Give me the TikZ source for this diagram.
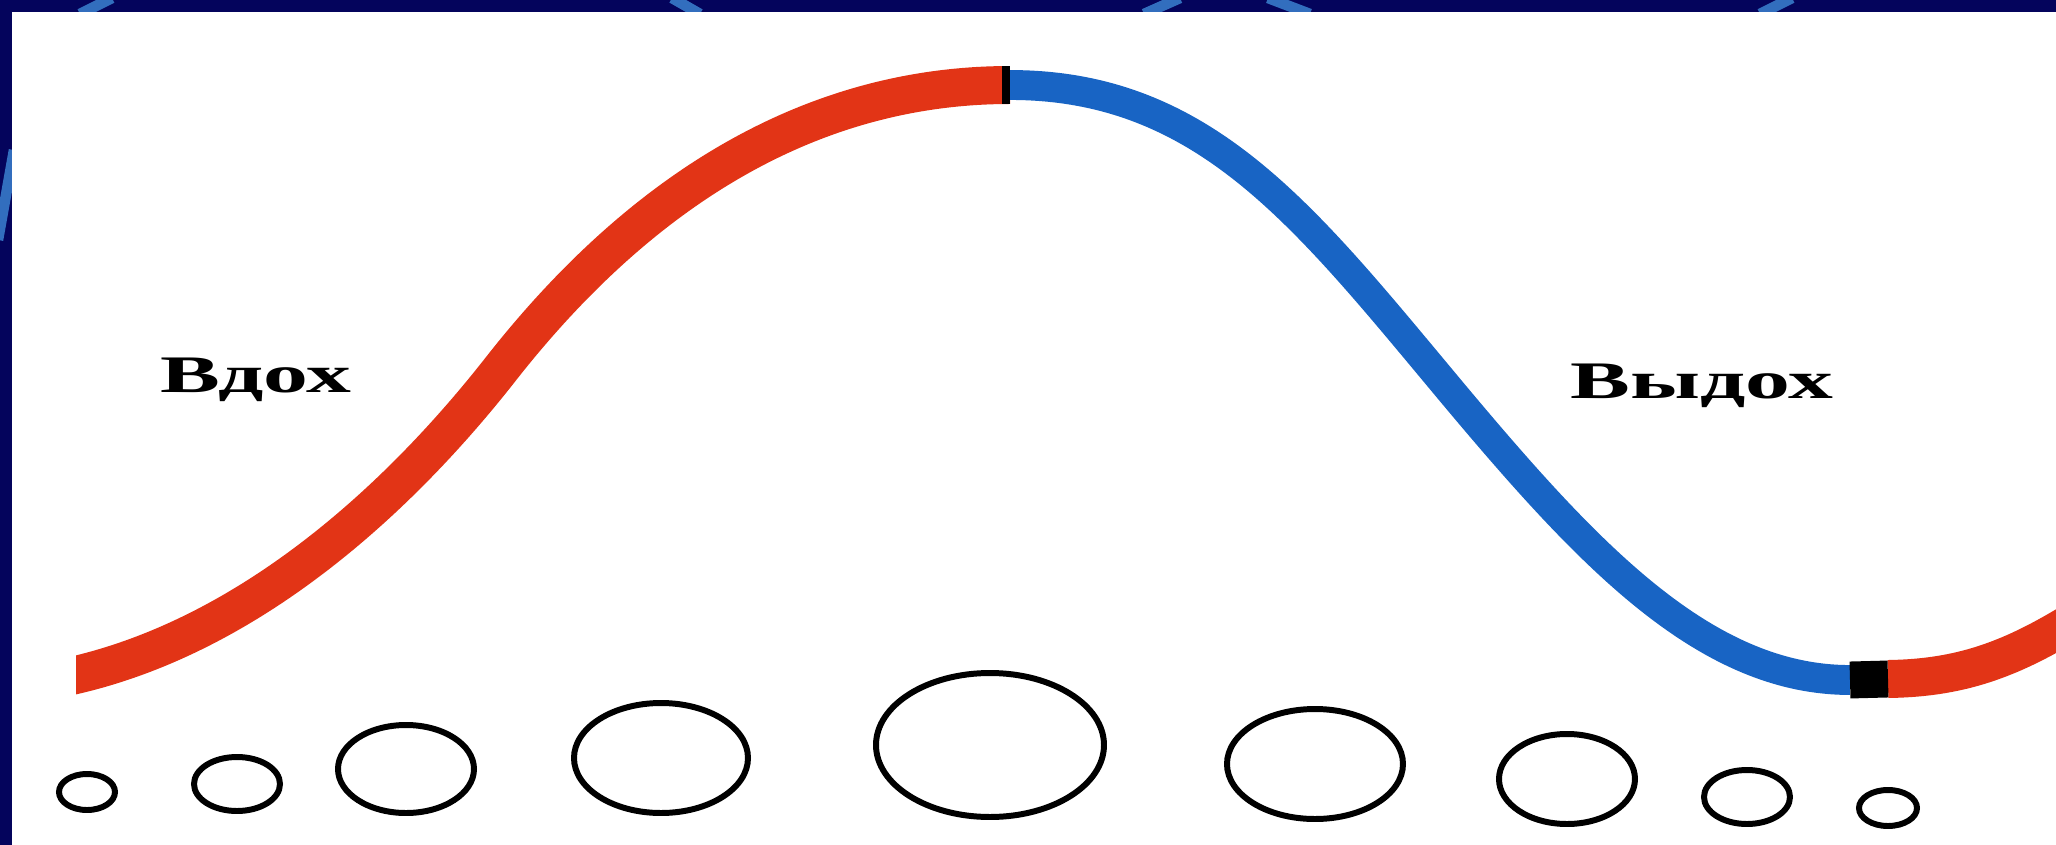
\documentclass[tikz,border=0pt]{standalone}
\usepackage{fontspec}
\newfontfamily\labelfont[FakeStretch=1.7]{Liberation Serif}
\definecolor{slidebg}{RGB}{4,4,92}
\definecolor{slidearc}{RGB}{50,110,190}
\definecolor{inhalered}{RGB}{226,52,22}
\definecolor{exhaleblue}{RGB}{24,100,196}

\begin{document}
\begin{tikzpicture}[
    x=0.01cm, y=-0.01cm,
    bgarc/.style={draw=slidearc, line width=3pt},
    inhale/.style={draw=inhalered, line width=10.8pt},
    exhale/.style={draw=exhaleblue, line width=8.5pt},
    joint/.style={draw=black, line width=10.5pt},
    bubble/.style={draw=black, line width=1.7pt},
    breathlabel/.style={font=\labelfont\bfseries\fontsize{15pt}{17pt}\selectfont,
        inner sep=0pt, anchor=base west},
]
\useasboundingbox (0,0) rectangle (2056,845);

% Slide frame
\fill[slidebg] (0,0) rectangle (2056,845);
\draw[bgarc] (112,-2) -- (80,14);
\draw[bgarc] (672,-2) -- (700,14);
\draw[bgarc] (1180,-2) -- (1144,14);
\draw[bgarc] (1268,-2) -- (1310,14);
\draw[bgarc] (1792,-2) -- (1760,14);
\draw[bgarc] (14,150) -- (-2,240);
\fill[white] (12,12) rectangle (2056,845);

% Breathing curve
\begin{scope}
\clip (76,12) rectangle (2056,845);
\coordinate (start) at (40,682);
\coordinate (riseMid) at (500,370);
\coordinate (peak) at (1010,85);
\coordinate (fallMid) at (1440,378);
\coordinate (trough) at (1850,680);
\coordinate (troughEnd) at (1888,679);
\coordinate (rise2) at (2075,620);

\draw[inhale] (start) .. controls (230,652) and (390,510) .. (riseMid)
    .. controls (640,191) and (810,85) .. (peak);
\draw[exhale] (peak) .. controls (1200,85) and (1300,210) .. (fallMid)
    .. controls (1580,546) and (1700,680) .. (trough);
\draw[inhale] (troughEnd) .. controls (1960,678) and (2010,660) .. (rise2);
\draw[joint] (trough) -- (troughEnd);
\draw[draw=black, line width=10.8pt] (1002,85) -- (peak);
\end{scope}

% Labels
\node[breathlabel] (inhaleText) at (160,392) {Вдох};
\node[breathlabel] (exhaleText) at (1570,398) {Выдох};

% Alveoli
\foreach \cx/\cy/\rx/\ry [count=\i] in {87/792/28/18, 237/784/43/27,
    406/769/68/44, 661/758/87/55, 990/745/114/72, 1315/764/88/55,
    1567/779/68/45, 1747/797/43/27, 1888/808/29/18}
  \draw[bubble] (\cx,\cy) ellipse [x radius=\rx, y radius=\ry];

\end{tikzpicture}
\end{document}
